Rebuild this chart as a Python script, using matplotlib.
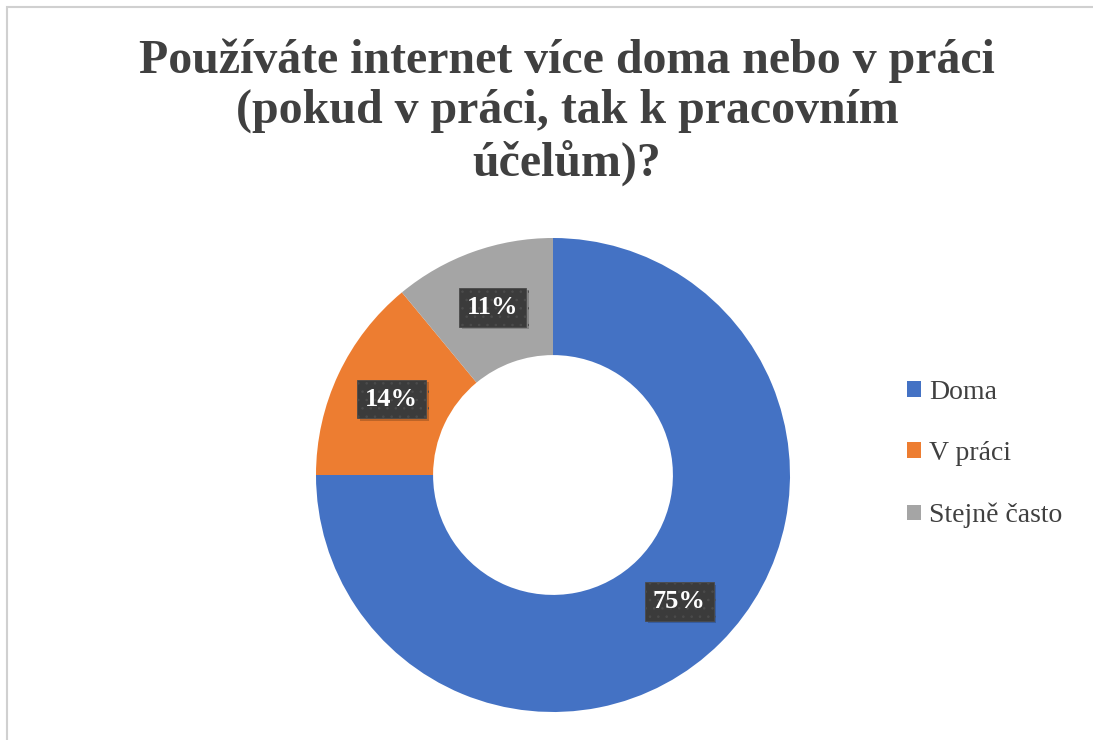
import matplotlib
matplotlib.use("Agg")
import matplotlib.pyplot as plt
import matplotlib.patheffects as pe
from matplotlib.patches import Patch, Rectangle
import numpy as np

# Data
categories = ["Doma", "V práci", "Stejně často"]
shares = [75, 14, 11]
colors = ["#4472C4", "#ED7D31", "#A5A5A5"]
title = "Používáte internet více doma nebo v práci\n(pokud v práci, tak k pracovním\núčelům)?"

plt.rcParams['font.family'] = ['Liberation Serif', 'DejaVu Serif']
plt.rcParams['hatch.linewidth'] = 0.6

W, H = 1093, 740
fig = plt.figure(figsize=(W / 100, H / 100), dpi=100)

# chart border (only top and left visible in the crop)
fig.patches.append(Rectangle((7 / W, -0.1), 1.2, (H - 6.5) / H + 0.1,
                             transform=fig.transFigure, fill=False,
                             edgecolor="#d0d0d0", linewidth=1.5))

# donut
cx, cy, R = 553, H - 475, 237
ax = fig.add_axes([(cx - R) / W, (cy - R) / H, 2 * R / W, 2 * R / H])
ring = 0.494
wedges, _ = ax.pie(shares, colors=colors, startangle=90, counterclock=False,
                   radius=1.0, wedgeprops=dict(width=ring, linewidth=0))
ax.set_xlim(-1, 1)
ax.set_ylim(-1, 1)
ax.axis('off')

# data labels in dark boxes at mid-ring
mid = 1.0 - ring / 2
for w, v in zip(wedges, shares):
    ang = np.deg2rad((w.theta1 + w.theta2) / 2)
    t = ax.text(mid * np.cos(ang), mid * np.sin(ang), f"{v}%", ha='center', va='center',
                color='white', fontsize=19, fontweight='bold',
                bbox=dict(boxstyle='square,pad=0.3', facecolor='#3b3b3b',
                          edgecolor='#4b4b4b', hatch='..', linewidth=0.6))
    t.get_bbox_patch().set_path_effects([
        pe.SimplePatchShadow(offset=(2, -2), alpha=0.2, shadow_rgbFace='black'),
        pe.Normal()])

fig.text(567 / W, (H - 112) / H, title, ha='center', va='center', fontsize=34.5,
         fontweight='bold', color='#404040', linespacing=1.17)

handles = [Patch(facecolor=c, edgecolor='none') for c in colors]
fig.legend(handles, categories, loc='center left', bbox_to_anchor=(882 / W, (H - 454) / H),
           frameon=False, fontsize=20, handlelength=0.5, handleheight=0.5,
           handletextpad=0.3, labelspacing=1.32, labelcolor='#404040')

fig.savefig("out.png", dpi=100)
